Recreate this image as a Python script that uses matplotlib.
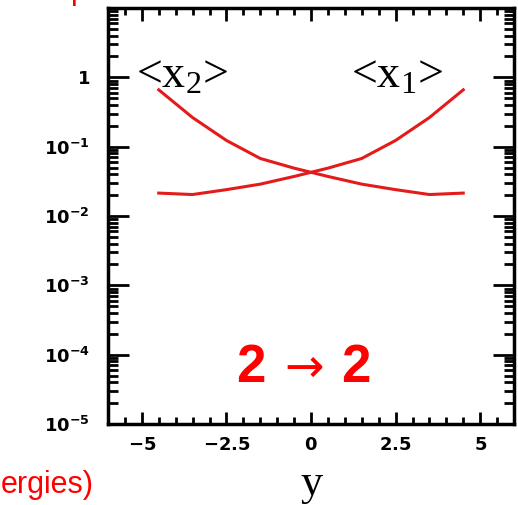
import matplotlib
matplotlib.use("Agg")
import matplotlib.pyplot as plt
from matplotlib.ticker import FixedLocator, MultipleLocator, LogLocator, NullFormatter

plt.rcParams['mathtext.fontset'] = 'custom'
plt.rcParams['mathtext.rm'] = 'Liberation Serif'
plt.rcParams['mathtext.bf'] = 'DejaVu Sans:bold'
plt.rcParams['mathtext.default'] = 'rm'

# data
rapidity = [-4.5, -3.5, -2.5, -1.5, -0.5, 0.5, 1.5, 2.5, 3.5, 4.5]
mean_x2 = [0.66, 0.263, 0.123, 0.0676, 0.049, 0.0372, 0.0288, 0.024, 0.0204, 0.0214]
mean_x1 = [0.0214, 0.0204, 0.024, 0.0288, 0.0372, 0.049, 0.0676, 0.123, 0.263, 0.66]
xticks = [-5, -2.5, 0, 2.5, 5]
xticklabels = [r'$\mathbf{-5}$', r'$\mathbf{-2.5}$', r'$\mathbf{0}$', r'$\mathbf{2.5}$', r'$\mathbf{5}$']
yticks = [1e-5, 1e-4, 1e-3, 1e-2, 1e-1, 1]
yticklabels = [r'$\mathbf{10^{-5}}$', r'$\mathbf{10^{-4}}$', r'$\mathbf{10^{-3}}$',
               r'$\mathbf{10^{-2}}$', r'$\mathbf{10^{-1}}$', r'$\mathbf{1}$']

W, H = 518, 505
fig = plt.figure(figsize=(W / 100, H / 100), dpi=100)
ax = fig.add_axes([108 / W, (H - 424) / H, (514 - 108) / W, (424 - 8) / H])

red = '#e41b1b'
ax.plot(rapidity, mean_x2, color=red, lw=2.2)
ax.plot(rapidity, mean_x1, color=red, lw=2.2)

ax.set_yscale('log')
ax.set_xlim(-6, 6)
ax.set_ylim(1e-5, 10)

ax.xaxis.set_major_locator(FixedLocator(xticks))
ax.set_xticklabels(xticklabels)
ax.xaxis.set_minor_locator(MultipleLocator(0.5))
ax.yaxis.set_major_locator(FixedLocator(yticks))
ax.set_yticklabels(yticklabels)
ax.yaxis.set_minor_locator(LogLocator(base=10, subs=range(2, 10), numticks=30))
ax.yaxis.set_minor_formatter(NullFormatter())

for s in ax.spines.values():
    s.set_linewidth(2.5)
ax.tick_params(which='both', direction='in', top=True, right=True, width=2, colors='black')
ax.tick_params(axis='x', which='major', length=9, labelsize=13, pad=9)
ax.tick_params(axis='x', which='minor', length=5)
ax.tick_params(axis='y', which='major', length=15, labelsize=13, pad=13)
ax.tick_params(axis='y', which='minor', length=7)

# curve labels
fig.text(136 / W, (H - 88) / H, r'<x$_2$>', fontsize=33, family='Liberation Serif',
         ha='left', va='baseline')
fig.text(351 / W, (H - 88) / H, r'<x$_1$>', fontsize=33, family='Liberation Serif',
         ha='left', va='baseline')

# 2 -> 2
fig.text(251 / W, (H - 368) / H, '2', fontsize=38, fontweight='bold', color='#ff0000',
         family='Liberation Sans', ha='center', va='center')
fig.text(304 / W, (H - 369) / H, '\u2192', fontsize=34, color='#ff0000',
         family='DejaVu Sans', ha='center', va='center')
fig.text(356 / W, (H - 368) / H, '2', fontsize=38, fontweight='bold', color='#ff0000',
         family='Liberation Sans', ha='center', va='center')

# axis title
fig.text(311.7 / W, 10 / H, 'y', fontsize=32, family='Liberation Serif',
         ha='center', va='baseline')

# cut-off slide texts in red
fig.text(94 / W, (H - 493) / H, 'ergies)', fontsize=22, color='#ff0000',
         family='Liberation Sans', ha='right', va='baseline')
fig.text(70 / W, (H + 1) / H, 'p', fontsize=22, color='#ff0000',
         family='Liberation Sans', ha='left', va='baseline')

fig.savefig('out.png', dpi=100)
